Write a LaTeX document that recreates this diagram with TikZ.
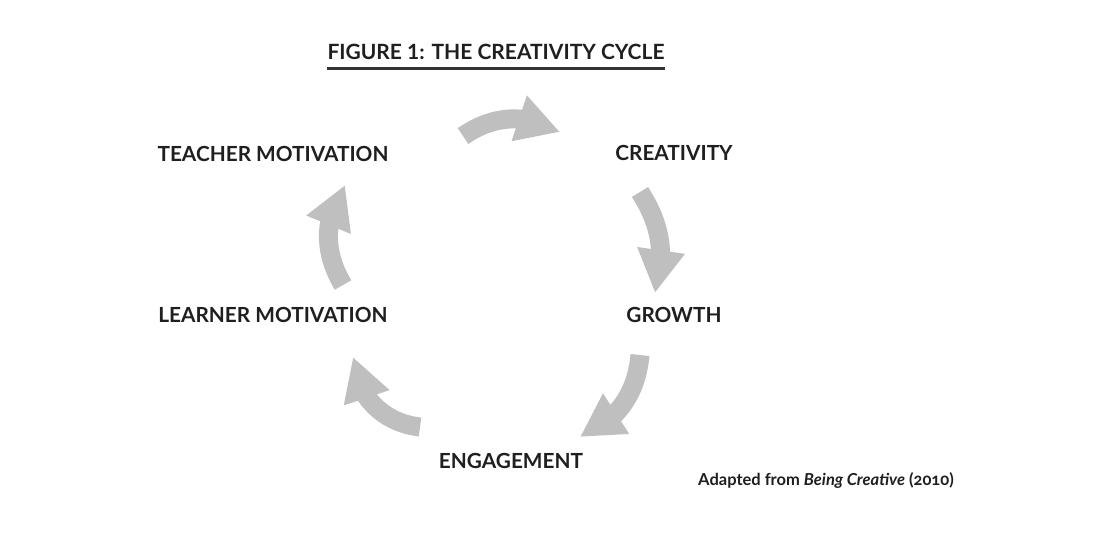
\documentclass[tikz,border=0pt]{standalone}
\usepackage{fontspec}
\setmainfont{Lato}
\newfontfamily\notefont[Numbers=OldStyle]{Lato}
\usetikzlibrary{positioning, arrows.meta, bending}

\begin{document}
\begin{tikzpicture}[x=1pt, y=-1pt,
    stage/.style={font=\fontsize{20.8}{22}\selectfont\bfseries, text=black!88, inner sep=0pt},
    cycle/.style={line width=19pt, draw=black!25, -{Triangle[width=45pt, length=43pt]}}]
    \useasboundingbox[fill=white] (0,0) rectangle (1109,549);

    \node[font=\fontsize{21}{22}\selectfont\bfseries, text=black!88, inner sep=0pt] (title) at (496,52) {FIGURE 1: THE CREATIVITY CYCLE};
    \draw[line width=3pt, black!80] ([yshift=-9pt]title.south west) -- ([yshift=-9pt]title.south east);

    \node[stage] (teacher) at (273,154) {TEACHER MOTIVATION};
    \node[stage] (creativity) at (674,153) {CREATIVITY};
    \node[stage] (growth) at (674,315) {GROWTH};
    \node[stage] (engagement) at (511,461) {ENGAGEMENT};
    \node[stage] (learner) at (273,315) {LEARNER MOTIVATION};

    \node[font=\fontsize{16.5}{17}\notefont\bfseries, text=black!88, inner sep=0pt] (source) at (826,480) {Adapted from \textit{Being Creative} (2010)};

    \coordinate (a1) at (463,136);
    \coordinate (b1) at (560,132);
    \coordinate (a2) at (640,192);
    \coordinate (b2) at (655,293);
    \coordinate (a3) at (640,355);
    \coordinate (b3) at (580,437);
    \coordinate (a4) at (420,427);
    \coordinate (b4) at (353,357);
    \coordinate (a5) at (343,285);
    \coordinate (b5) at (345,185);

    \draw[cycle] (a1) to[bend left=32] (b1);
    \draw[cycle] (a2) to[bend left=24] (b2);
    \draw[cycle] (a3) to[bend left=31] (b3);
    \draw[cycle] (a4) to[bend left=40] (b4);
    \draw[cycle] (a5) to[bend left=32] (b5);
\end{tikzpicture}
\end{document}
